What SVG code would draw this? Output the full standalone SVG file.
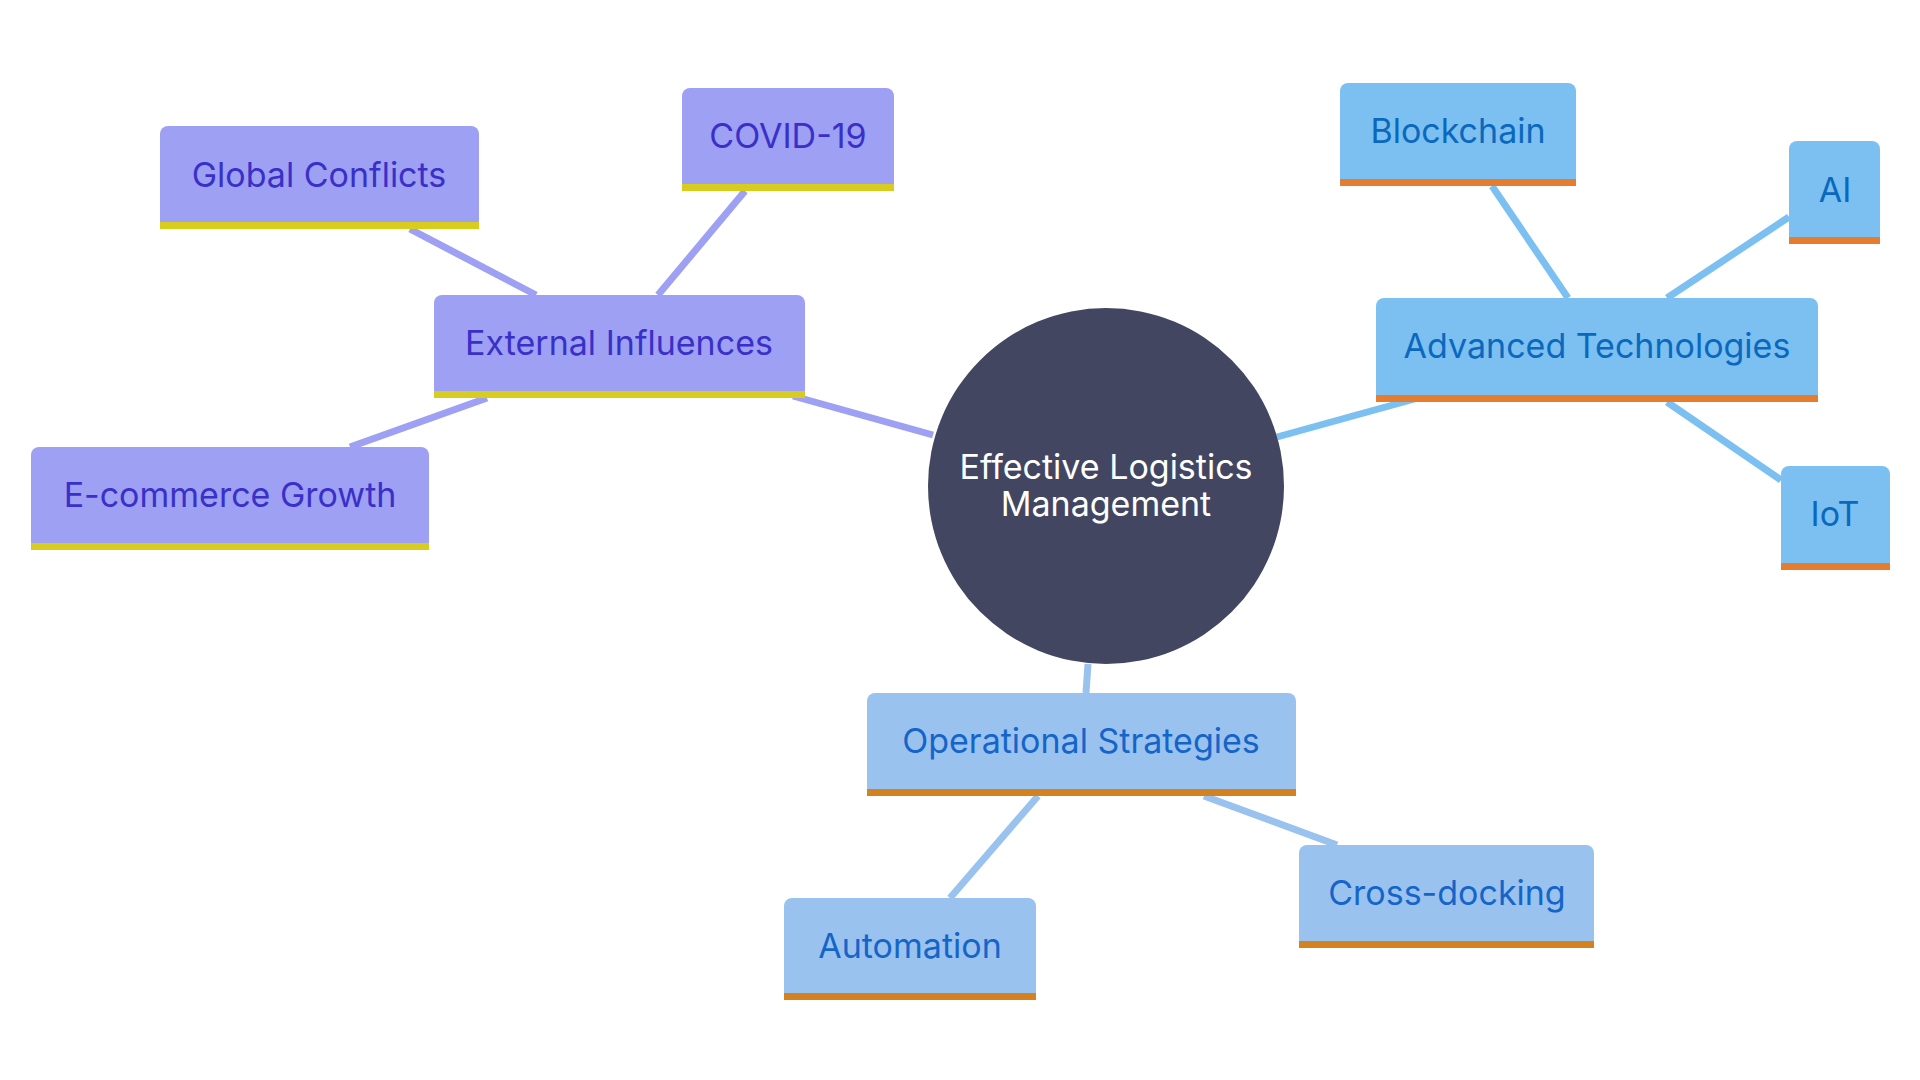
<svg xmlns="http://www.w3.org/2000/svg" width="1920" height="1080" viewBox="0 0 1920 1080">
<style>
text{font-family:Inter,"Open Sans","Liberation Sans",sans-serif;text-anchor:middle;dominant-baseline:central;font-size:34px}
.p rect.b{fill:#9DA0F3}.p rect.u{fill:#D8CC1E}.p text{fill:#3A30C8}
.t rect.b{fill:#7CC0F1}.t rect.u{fill:#E67D2E}.t text{fill:#0B68BD}
.o rect.b{fill:#9AC2EF}.o rect.u{fill:#D4811F}.o text{fill:#1565C9}
.ep{stroke:#9DA0F3}.et{stroke:#7CC0F1}.eo{stroke:#9AC2EF}
#edges line{stroke-width:7}
</style>
<rect width="1920" height="1080" fill="#fff"/>
<g id="edges">
<line class="ep" x1="933" y1="435" x2="793" y2="396"/>
<line class="ep" x1="536" y1="295" x2="410" y2="229"/>
<line class="ep" x1="658" y1="295" x2="745" y2="191"/>
<line class="ep" x1="487" y1="398" x2="350" y2="447"/>
<line class="et" x1="1277" y1="437" x2="1418" y2="398"/>
<line class="et" x1="1568" y1="298" x2="1492" y2="186"/>
<line class="et" x1="1667" y1="298" x2="1789" y2="217"/>
<line class="et" x1="1667" y1="402" x2="1781" y2="480"/>
<line class="eo" x1="1088" y1="664" x2="1086" y2="693"/>
<line class="eo" x1="1038" y1="796" x2="950" y2="898"/>
<line class="eo" x1="1204" y1="796" x2="1337" y2="845"/>
</g>
<g id="center"><circle cx="1106" cy="486" r="178" fill="#424660"/>
<text x="1106" y="466" fill="#fff" font-size="32">Effective Logistics</text>
<text x="1106" y="503" fill="#fff" font-size="32">Management</text></g>
<g id="external" class="p"><rect class="b" x="434" y="295" width="371" height="103" rx="8"/><rect class="u" x="434" y="391" width="371" height="7"/><text x="619" y="342">External Influences</text></g>
<g id="global" class="p"><rect class="b" x="160" y="126" width="319" height="103" rx="8"/><rect class="u" x="160" y="222" width="319" height="7"/><text x="319" y="174">Global Conflicts</text></g>
<g id="covid" class="p"><rect class="b" x="682" y="88" width="212" height="103" rx="8"/><rect class="u" x="682" y="184" width="212" height="7"/><text x="788" y="135">COVID-19</text></g>
<g id="ecommerce" class="p"><rect class="b" x="31" y="447" width="398" height="103" rx="8"/><rect class="u" x="31" y="543" width="398" height="7"/><text x="230" y="494">E-commerce Growth</text></g>
<g id="advanced" class="t"><rect class="b" x="1376" y="298" width="442" height="104" rx="8"/><rect class="u" x="1376" y="395" width="442" height="7"/><text x="1597" y="345">Advanced Technologies</text></g>
<g id="blockchain" class="t"><rect class="b" x="1340" y="83" width="236" height="103" rx="8"/><rect class="u" x="1340" y="179" width="236" height="7"/><text x="1458" y="130">Blockchain</text></g>
<g id="ai" class="t"><rect class="b" x="1789" y="141" width="91" height="103" rx="8"/><rect class="u" x="1789" y="237" width="91" height="7"/><text x="1835" y="189">AI</text></g>
<g id="iot" class="t"><rect class="b" x="1781" y="466" width="109" height="104" rx="8"/><rect class="u" x="1781" y="563" width="109" height="7"/><text x="1835" y="513">IoT</text></g>
<g id="operational" class="o"><rect class="b" x="867" y="693" width="429" height="103" rx="8"/><rect class="u" x="867" y="789" width="429" height="7"/><text x="1081" y="740">Operational Strategies</text></g>
<g id="automation" class="o"><rect class="b" x="784" y="898" width="252" height="102" rx="8"/><rect class="u" x="784" y="993" width="252" height="7"/><text x="910" y="945">Automation</text></g>
<g id="crossdocking" class="o"><rect class="b" x="1299" y="845" width="295" height="103" rx="8"/><rect class="u" x="1299" y="941" width="295" height="7"/><text x="1447" y="892">Cross-docking</text></g>
</svg>
